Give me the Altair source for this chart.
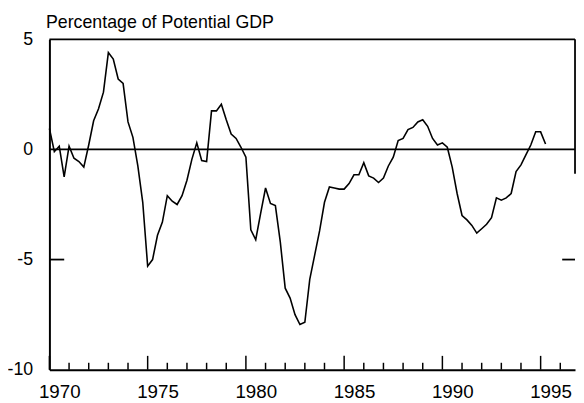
import altair as alt
import pandas as pd

# Quarterly output gap, 1970Q1 .. 1995Q2 (percentage of potential GDP)
start_year = 1970
gap_values = [
    0.95, -0.1, 0.15, -1.25, 0.15, -0.4, -0.55, -0.8,
    0.2, 1.3, 1.85, 2.6, 4.4, 4.1, 3.2, 3.0,
    1.25, 0.55, -0.75, -2.4, -5.3, -5.0, -3.9, -3.3,
    -2.1, -2.35, -2.5, -2.1, -1.4, -0.45, 0.3, -0.5,
    -0.55, 1.75, 1.75, 2.05, 1.35, 0.7, 0.5, 0.1,
    -0.35, -3.65, -4.1, -2.9, -1.75, -2.45, -2.55, -4.2,
    -6.3, -6.75, -7.5, -7.95, -7.85, -5.9, -4.8, -3.7,
    -2.4, -1.7, -1.75, -1.8, -1.8, -1.55, -1.15, -1.15,
    -0.6, -1.2, -1.3, -1.5, -1.3, -0.75, -0.35, 0.4,
    0.5, 0.9, 1.0, 1.25, 1.35, 1.05, 0.5, 0.2,
    0.3, 0.1, -0.8, -2.0, -3.0, -3.2, -3.45, -3.8,
    -3.6, -3.4, -3.1, -2.2, -2.3, -2.2, -2.0, -1.0,
    -0.7, -0.25, 0.2, 0.8, 0.8, 0.25,
]
major_years = [1970, 1975, 1980, 1985, 1990, 1995]
minor_years = [y for y in range(1971, 1997) if y not in major_years]
y_ticks = [-10, -5, 0, 5]
axis_title = "Percentage of Potential GDP"

W, H = 533, 335
FONT = "Liberation Sans"

df = pd.DataFrame({
    "year": [start_year + 0.25 * i for i in range(len(gap_values))],
    "gap": gap_values,
})

xscale = alt.Scale(domain=[1970, 1996.75], nice=False, zero=False)
yscale = alt.Scale(domain=[-10, 5], nice=False, zero=False)

x_axis = alt.Axis(values=major_years, format="d", title=None, grid=False,
                  ticks=False, tickSize=0, labelPadding=28, labelFlush=False,
                  labelBaseline="alphabetic", labelOffset=10,
                  labelFontSize=19, labelFont=FONT, labelColor="black",
                  domainColor="black", domainWidth=2)
y_axis = alt.Axis(values=y_ticks, title=axis_title, grid=False,
                  ticks=False, tickSize=0, labelPadding=17, labelFlush=False,
                  labelExpr="'' + datum.value",
                  labelFontSize=18, labelFont=FONT, labelColor="black",
                  domainColor="black", domainWidth=2,
                  titleAngle=0, titleX=-4, titleY=-12, titleAlign="left",
                  titleBaseline="alphabetic", titleFontSize=18,
                  titleFont=FONT, titleFontWeight="normal",
                  titleColor="black")

line = alt.Chart(df).mark_line(color="black", strokeWidth=1.6).encode(
    x=alt.X("year:Q", scale=xscale, axis=x_axis),
    y=alt.Y("gap:Q", scale=yscale, axis=y_axis),
)

hdf = pd.DataFrame({"gap": [0, 5]})
hlines = alt.Chart(hdf).mark_rule(color="black", strokeWidth=1.8).encode(
    y=alt.Y("gap:Q", scale=yscale, axis=y_axis),
    x=alt.value(0), x2=alt.value(W),
)

rdf = pd.DataFrame({"gap": [5], "gap_end": [-1.1]})
right_border = alt.Chart(rdf).mark_rule(color="black", strokeWidth=1.8).encode(
    y=alt.Y("gap:Q", scale=yscale, axis=y_axis), y2="gap_end:Q",
    x=alt.value(W),
)

tdf = pd.DataFrame({"gap": [-5]})
left_tick = alt.Chart(tdf).mark_rule(color="black", strokeWidth=1.8).encode(
    y=alt.Y("gap:Q", scale=yscale, axis=y_axis),
    x=alt.value(0), x2=alt.value(15),
)
right_tick = alt.Chart(tdf).mark_rule(color="black", strokeWidth=1.8).encode(
    y=alt.Y("gap:Q", scale=yscale, axis=y_axis),
    x=alt.value(W - 13), x2=alt.value(W),
)

major_df = pd.DataFrame({"year": major_years})
minor_df = pd.DataFrame({"year": minor_years})
major_ticks = alt.Chart(major_df).mark_rule(color="black", strokeWidth=1.5).encode(
    x=alt.X("year:Q", scale=xscale, axis=x_axis),
    y=alt.value(H), y2=alt.value(H - 14),
)
minor_ticks = alt.Chart(minor_df).mark_rule(color="black", strokeWidth=1.5).encode(
    x=alt.X("year:Q", scale=xscale, axis=x_axis),
    y=alt.value(H), y2=alt.value(H - 7),
)

chart = alt.layer(
    line, hlines, right_border, left_tick, right_tick, major_ticks, minor_ticks
).properties(
    width=W, height=H,
    autosize=alt.AutoSizeParams(type="none"),
    padding={"left": 42, "top": 29, "right": 1, "bottom": 30},
    background="white",
).configure_view(stroke=None)

chart.save("out.html", embed_options={"renderer": "svg", "actions": False})
